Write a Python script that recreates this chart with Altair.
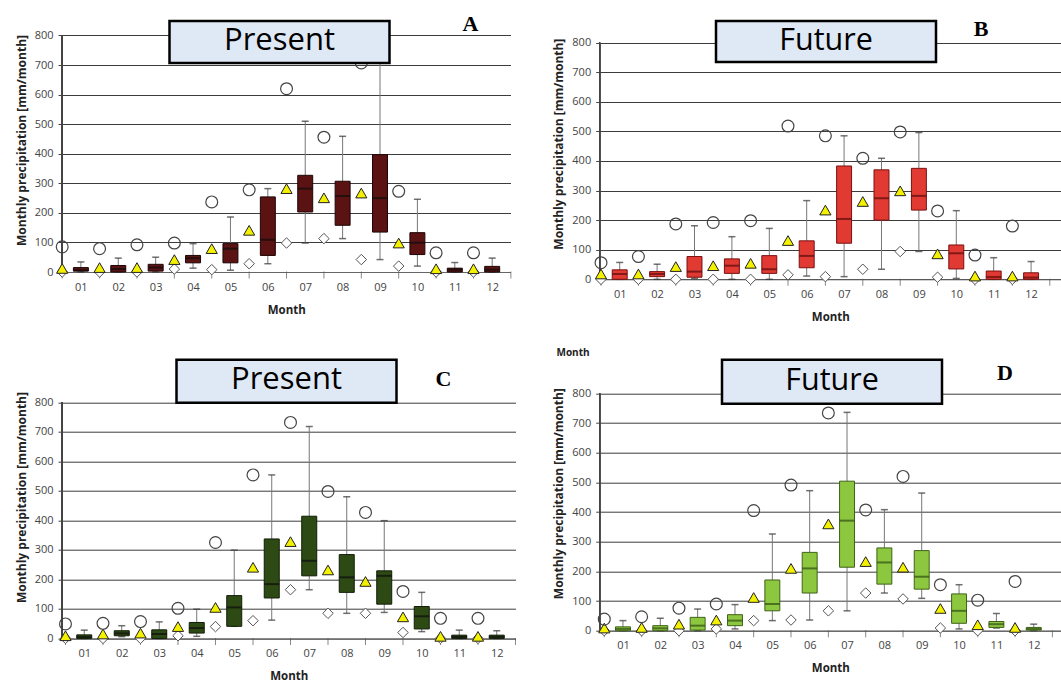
import altair as alt
import pandas as pd

months = list(range(1, 13))
month_labels = ["01", "02", "03", "04", "05", "06", "07", "08", "09", "10", "11", "12"]

# Panel A: present, first region
a_q1 = [3, 0, 3, 31, 31, 56, 203, 158, 135, 59, 0, 0]
a_med = [6, 10, 15, 47, 79, 109, 282, 257, 250, 99, 8, 8]
a_q3 = [15, 22, 26, 56, 96, 254, 327, 307, 397, 133, 13, 19]
a_lo = [0, 0, 0, 13, 6, 28, 98, 113, 42, 20, 0, 0]
a_hi = [34, 47, 50, 96, 186, 282, 510, 459, 760, 246, 32, 47]
a_max = [85, 79, 92, 98, 237, 278, 620, 456, 707, 273, 65, 65]
a_mean = [12, 15, 15, 42, 79, 141, 282, 251, 267, 98, 11, 11]
a_min = [0, 0, 0, 10, 8, 28, 98, 113, 42, 20, 0, 0]

# Panel B: future, first region
b_q1 = [0, 9, 7, 20, 20, 39, 122, 200, 234, 35, 0, 0]
b_med = [18, 18, 26, 46, 34, 79, 204, 274, 282, 88, 8, 6]
b_q3 = [32, 26, 77, 69, 80, 130, 383, 370, 375, 116, 28, 22]
b_lo = [0, 0, 3, 0, 0, 11, 9, 34, 94, 3, 0, 0]
b_hi = [57, 51, 181, 144, 172, 266, 485, 409, 496, 232, 73, 60]
b_max = [56, 77, 187, 192, 198, 518, 485, 409, 498, 231, 82, 180]
b_mean = [18, 18, 43, 46, 54, 131, 234, 263, 299, 86, 11, 11]
b_min = [0, 0, 0, 0, 0, 15, 9, 34, 94, 7, 0, 0]

# Panel C: present, second region
c_q1 = [0, 9, 0, 18, 41, 137, 212, 156, 116, 32, 0, 0]
c_med = [5, 17, 15, 35, 105, 184, 263, 207, 212, 75, 5, 5]
c_q3 = [12, 26, 29, 54, 145, 337, 414, 284, 229, 108, 11, 11]
c_lo = [0, 6, 0, 7, 41, 62, 165, 85, 88, 23, 0, 0]
c_hi = [28, 43, 56, 99, 299, 554, 718, 480, 399, 156, 28, 26]
c_max = [49, 51, 57, 102, 325, 554, 732, 498, 427, 159, 68, 68]
c_mean = [9, 15, 18, 40, 105, 241, 328, 232, 193, 73, 7, 7]
c_min = [0, 0, 0, 9, 40, 60, 165, 85, 85, 20, 0, 0]

# Panel D: future, second region
d_q1 = [0, 0, 2, 17, 67, 127, 214, 157, 140, 25, 11, 2]
d_med = [6, 8, 17, 34, 90, 210, 371, 230, 182, 67, 22, 6]
d_q3 = [13, 17, 45, 54, 171, 264, 504, 279, 270, 124, 31, 11]
d_lo = [0, 0, 0, 6, 34, 36, 67, 127, 109, 6, 9, 0]
d_hi = [34, 42, 73, 88, 326, 472, 736, 408, 464, 155, 58, 22]
d_max = [39, 47, 76, 90, 405, 491, 734, 407, 520, 155, 103, 166]
d_mean = [9, 11, 22, 36, 112, 210, 360, 233, 214, 75, 20, 11]
d_min = [0, 0, 0, 6, 34, 36, 67, 127, 107, 9, 0, 0]

y_ticks = [0, 100, 200, 300, 400, 500, 600, 700, 800]
y_title = "Monthly precipitation [mm/month]"
x_title = "Month"

FONT = "Open Sans"


def panel(q1, med, q3, lo, hi, mx, mean, mn, *, fill, edge, median_color,
          xdom, ymax, width, height, title, letter, box_px, letter_xy,
          title_size, extra_text=None):
    box_df = pd.DataFrame({"month": months, "q1": q1, "med": med, "q3": q3,
                           "lo": lo, "hi": hi})
    # summary markers sit half a month to the left of each box
    mark_df = pd.DataFrame({"pos": [m - 0.5 for m in months], "max": mx,
                            "mean": mean, "min": mn})
    tick_df = pd.DataFrame({"pos": [m - 0.5 for m in months] + [12.5]})

    xscale = alt.Scale(domain=xdom, nice=False, zero=False)
    yscale = alt.Scale(domain=[0, ymax], nice=False, zero=False)
    xaxis = alt.Axis(values=months, labelExpr="datum.value < 10 ? '0' + datum.value : '' + datum.value",
                     title=x_title, ticks=False, grid=False, domainColor="#666",
                     labelPadding=9, titlePadding=12, labelOverlap=False)
    yaxis = alt.Axis(values=y_ticks, tickCount=9, title=y_title, grid=True, domain=False,
                     tickSize=4, labelPadding=5, titlePadding=6, labelOverlap=False)

    def X(field):
        return alt.X(field, type="quantitative", scale=xscale, axis=xaxis)

    def Y(field):
        return alt.Y(field, type="quantitative", scale=yscale, axis=yaxis)

    base = alt.Chart(box_df)

    yline = base.mark_rule(color="#444", strokeWidth=1).encode(
        x=alt.value(0), y=alt.datum(0, scale=yscale, axis=yaxis), y2=alt.datum(800))

    xticks = alt.Chart(tick_df).mark_tick(orient="vertical", size=7, thickness=1,
                                          color="#555", yOffset=3).encode(
        x=X("pos"), y=alt.datum(0, scale=yscale, axis=yaxis))

    whisk = base.mark_rule(color="#777", strokeWidth=1).encode(
        x=X("month"), y=Y("lo"), y2="hi")
    cap_lo = base.mark_tick(orient="horizontal", size=7, thickness=1.5,
                            color="#333").encode(x=X("month"), y=Y("lo"))
    cap_hi = base.mark_tick(orient="horizontal", size=7, thickness=1.5,
                            color="#333").encode(x=X("month"), y=Y("hi"))

    boxes = base.transform_calculate(
        x1="datum.month - 0.2", x2="datum.month + 0.2"
    ).mark_rect(fill=fill, stroke=edge, strokeWidth=1).encode(
        x=X("x1"), x2="x2", y=Y("q1"), y2="q3")
    medians = base.mark_tick(orient="horizontal", size=15, thickness=2,
                             color=median_color).encode(x=X("month"), y=Y("med"))

    mk = alt.Chart(mark_df)
    diamonds = mk.mark_point(shape="diamond", filled=True, fill="white",
                             stroke="#555", strokeWidth=1, size=110,
                             opacity=1).encode(x=X("pos"), y=Y("min"))
    triangles = mk.mark_point(shape="triangle-up", filled=True, fill="#f3f000",
                              stroke="#222", strokeWidth=1, size=125,
                              opacity=1).encode(x=X("pos"), y=Y("mean"))
    circles = mk.mark_point(shape="circle", filled=False, stroke="#444",
                            strokeWidth=1.2, size=140,
                            opacity=1).encode(x=X("pos"), y=Y("max"))

    head = alt.Chart(pd.DataFrame({"label": [title], "letter": [letter]}))
    x0, x1, y0, y1 = box_px
    head_box = head.mark_rect(fill="#dfe8f5", stroke="black", strokeWidth=2.5).encode(
        x=alt.value(x0), x2=alt.value(x1), y=alt.value(y0), y2=alt.value(y1))
    head_text = head.mark_text(font=FONT, fontSize=title_size, color="black",
                               baseline="middle", align="center").encode(
        x=alt.value((x0 + x1) / 2), y=alt.value((y0 + y1) / 2 - 1), text="label:N")
    head_letter = head.mark_text(font="Liberation Serif", fontSize=22,
                                 fontWeight="bold", color="black",
                                 baseline="middle", align="center").encode(
        x=alt.value(letter_xy[0]), y=alt.value(letter_xy[1]), text="letter:N")

    layers = [yline, xticks, whisk, cap_lo, cap_hi, boxes, medians,
              diamonds, triangles, circles, head_box, head_text, head_letter]
    if extra_text is not None:
        txt, tx, ty = extra_text
        layers.append(alt.Chart(pd.DataFrame({"t": [txt]})).mark_text(
            font=FONT, fontSize=10, fontWeight="bold", color="#222",
            baseline="middle", align="center").encode(
            x=alt.value(tx), y=alt.value(ty), text="t:N"))
    return alt.layer(*layers).properties(width=width, height=height)


pa = panel(a_q1, a_med, a_q3, a_lo, a_hi, a_max, a_mean, a_min,
           fill="#5a1212", edge="#1e0505", median_color="#0d0d0d",
           xdom=[0.495, 12.49], ymax=893, width=448.5, height=264,
           title="Present", letter="A", box_px=(107.5, 327.5, 13, 55),
           letter_xy=(408.5, 16), title_size=31)
pb = panel(b_q1, b_med, b_q3, b_lo, b_hi, b_max, b_mean, b_min,
           fill="#e03a33", edge="#7a1010", median_color="#5a0c0c",
           xdom=[0.465, 12.8], ymax=917, width=461.3, height=271.3,
           title="Future", letter="B", box_px=(116.3, 336.3, 13, 54),
           letter_xy=(381.3, 21), title_size=30.5)
pc = panel(c_q1, c_med, c_q3, c_lo, c_hi, c_max, c_mean, c_min,
           fill="#2e4a14", edge="#111d06", median_color="#0d0d0d",
           xdom=[0.407, 12.5], ymax=958, width=453.5, height=282.7,
           title="Present", letter="C", box_px=(114.5, 334.5, 4, 47),
           letter_xy=(381.5, 23), title_size=31)
pd_ = panel(d_q1, d_med, d_q3, d_lo, d_hi, d_max, d_mean, d_min,
            fill="#8dc63f", edge="#3f6318", median_color="#2f4f12",
            xdom=[0.377, 12.73], ymax=927, width=461.3, height=275,
            title="Future", letter="D", box_px=(122.3, 342.3, 4, 48),
            letter_xy=(405.3, 17), title_size=30.5,
            extra_text=("Month", -26.7, -3))

chart = alt.concat(pa, pb, pc, pd_, columns=2, bounds="flush",
                   spacing={"row": 75.7, "column": 83.7}).properties(
    padding={"left": 15, "top": 8, "right": 0, "bottom": 0},
    background="white",
).configure_view(stroke=None).configure_axis(
    labelFont=FONT, labelFontSize=11, labelColor="#444",
    titleFont=FONT, titleFontSize=12, titleFontWeight="bold", titleColor="#222",
    gridColor="#3c3c3c", gridWidth=1, tickColor="#444",
).configure_axisX(titleFontSize=11.5)

chart.save("out.html", embed_options={"renderer": "svg", "actions": False})
